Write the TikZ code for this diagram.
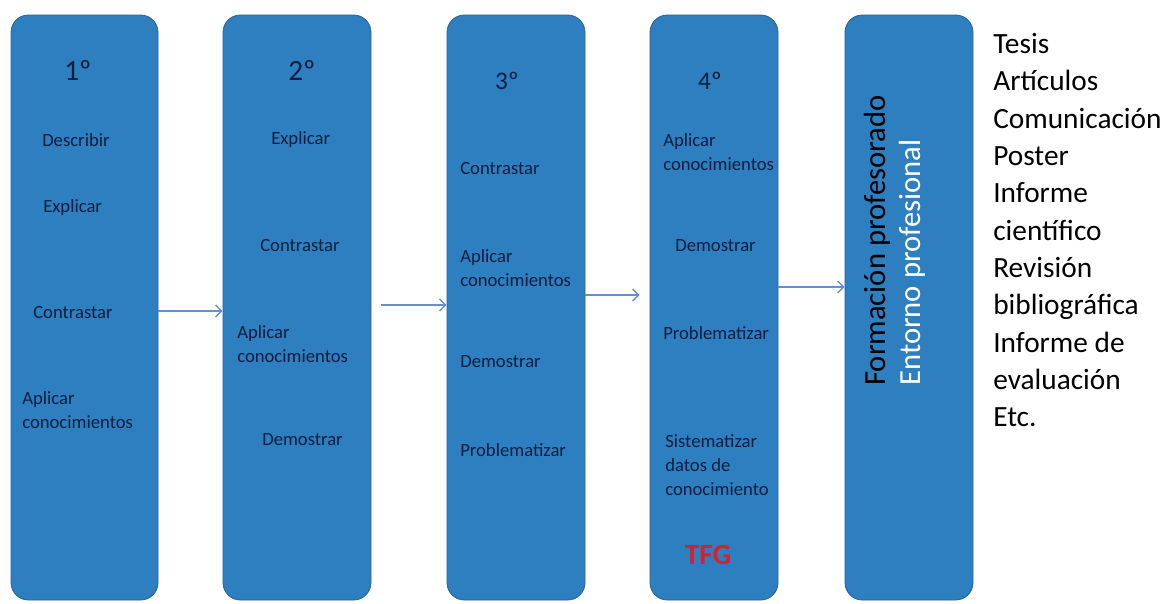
\documentclass[tikz,border=0pt]{standalone}
\usepackage{fontspec}
\setmainfont{Carlito}
\usetikzlibrary{arrows.meta}

\definecolor{mboxblue}{RGB}{45,127,192}
\definecolor{mboxline}{RGB}{38,96,150}
\definecolor{mnavy}{RGB}{14,30,64}
\definecolor{marrow}{RGB}{100,145,205}
\definecolor{mred}{RGB}{220,30,40}
\newcommand*{\colBox}{mboxblue}
\newcommand*{\colLine}{mboxline}
\newcommand*{\colTxt}{mnavy}
\newcommand*{\colArr}{marrow}
\newcommand*{\fntBox}{\fontsize{14}{18}\selectfont}
\newcommand*{\fntHead}{\fontsize{22}{26}\selectfont}
\newcommand*{\fntList}{\fontsize{22}{28}\selectfont}
\newcommand*{\yMid}{307.5}

\tikzset{
    stage/.style={rectangle, rounded corners=13pt, draw=\colLine, fill=\colBox,
        line width=0.6pt, minimum height=438.75pt, inner sep=0pt},
    lbl/.style={font=\fntBox, text=\colTxt, align=left, anchor=west, inner sep=0pt},
    hdr/.style={font=\fntHead, text=\colTxt, inner sep=0pt},
    flow/.style={draw=\colArr, line width=1.1pt, -{Straight Barb[length=4.5pt,width=9pt]}}
}

\begin{document}
\begin{tikzpicture}[x=0.75pt,y=-0.75pt]

    \useasboundingbox (0,0) rectangle (1173,603);

    \foreach \n/\cx/\w in {1/84.5/147, 2/297/148, 3/516/138, 4/714/128, 5/909/128} {
        \node [stage, minimum width=\w*0.75pt] (b\n) at (\cx,\yMid) {};
    }

    % 1
    \node [hdr] (h1) at (78,70) {1º};
    \node [lbl] (d1) at (42,140) {Describir};
    \node [lbl] (e1) at (43,208) {Explicar};
    \node [lbl] (c1) at (33,313) {Contrastar};
    \node [lbl] (a1) at (22,410) {Aplicar\\conocimientos};

    % 2
    \node [hdr] (h2) at (302,70) {2º};
    \node [lbl] (e2) at (271,140) {Explicar};
    \node [lbl] (c2) at (260,246) {Contrastar};
    \node [lbl] (a2) at (237,344) {Aplicar\\conocimientos};
    \node [lbl] (m2) at (262,440) {Demostrar};

    % 3
    \node [hdr, font=\fontsize{19}{23}\selectfont] (h3) at (507,81) {3º};
    \node [lbl] (c3) at (460,169) {Contrastar};
    \node [lbl] (a3) at (460,268) {Aplicar\\conocimientos};
    \node [lbl] (m3) at (460,362) {Demostrar};
    \node [lbl] (p3) at (460,450) {Problematizar};

    % 4
    \node [hdr, font=\fontsize{19}{23}\selectfont] (h4) at (710,81) {4º};
    \node [lbl] (a4) at (663,152) {Aplicar\\conocimientos};
    \node [lbl] (m4) at (675,246) {Demostrar};
    \node [lbl] (p4) at (663,333) {Problematizar};
    \node [lbl] (s4) at (665,465) {Sistematizar\\datos de\\conocimiento};
    \node [inner sep=0pt, text=mred, font=\fontsize{22}{26}\selectfont\bfseries] (tfg) at (708,555) {TFG};

    % 5
    \node [rotate=90, anchor=west, align=left, inner sep=0pt, font=\fontsize{23}{26}\selectfont,
        text=black] (fp) at (895,386) {Formación profesorado\\\textcolor{white}{Entorno profesional}};

    \node [anchor=north west, align=left, inner sep=0pt, font=\fntList] (out) at (993,33)
        {Tesis\\Artículos\\Comunicación\\Poster\\Informe\\científico\\Revisión\\bibliográfica\\Informe de\\evaluación\\Etc.};

    \path [flow] ([yshift=-2.6pt]b1.east) -- ([yshift=-2.6pt]b1.east -| b2.west);
    \path [flow, shorten <=7.5pt] ([yshift=1.9pt]b2.east) -- ([yshift=1.9pt]b2.east -| b3.west);
    \path [flow, shorten >=7.5pt] ([yshift=9.4pt]b3.east) -- ([yshift=9.4pt]b3.east -| b4.west);
    \path [flow] ([yshift=15.4pt]b4.east) -- ([yshift=15.4pt]b4.east -| b5.west);

\end{tikzpicture}
\end{document}
